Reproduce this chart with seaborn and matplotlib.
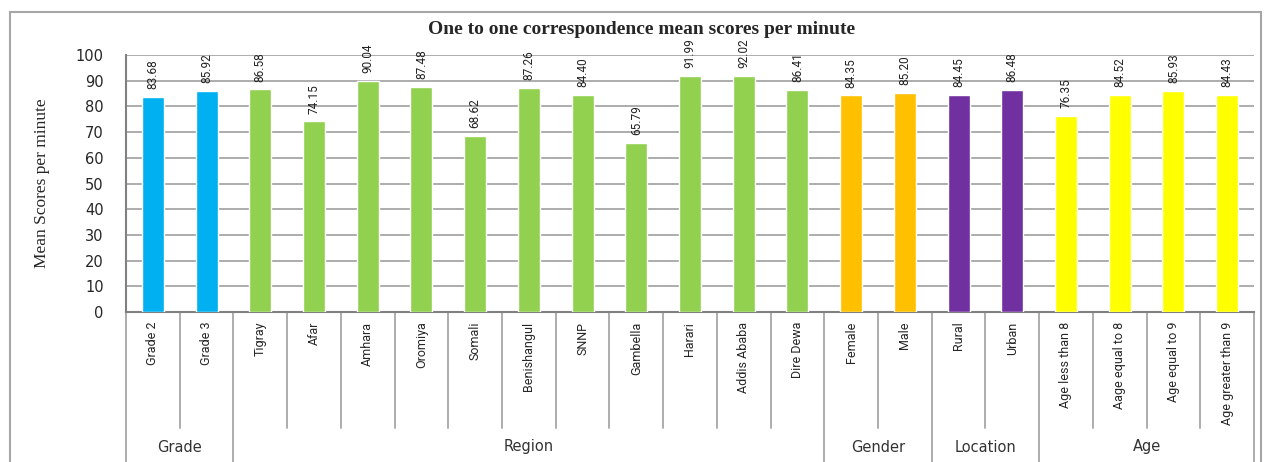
import numpy as np
import pandas as pd
import matplotlib
matplotlib.use("Agg")
import matplotlib.pyplot as plt
from matplotlib.patches import Rectangle
import seaborn as sns

categories = ["Grade 2", "Grade 3", "Tigray", "Afar", "Amhara", "Oromiya", "Somali",
              "Benishangul", "SNNP", "Gambella", "Harari", "Addis Ababa", "Dire Dewa",
              "Female", "Male", "Rural", "Urban", "Age less than 8", "Aage equal to 8",
              "Age equal to 9", "Age greater than 9"]
scores = [83.68, 85.92, 86.58, 74.15, 90.04, 87.48, 68.62, 87.26, 84.40, 65.79,
          91.99, 92.02, 86.41, 84.35, 85.20, 84.45, 86.48, 76.35, 84.52, 85.93, 84.43]
groups = ["Grade"] * 2 + ["Region"] * 11 + ["Gender"] * 2 + ["Location"] * 2 + ["Age"] * 4
group_names = ["Grade", "Region", "Gender", "Location", "Age"]
group_sizes = [2, 11, 2, 2, 4]
group_colors = ["#00B0F0", "#92D050", "#FFC000", "#7030A0", "#FFFF00"]

df = pd.DataFrame({"cat": categories, "score": scores, "group": groups})

sns.set_style("white")
narrow = ["Liberation Sans Narrow", "Roboto", "DejaVu Sans"]

fig = plt.figure(figsize=(12.64, 4.62), dpi=100)
ax = fig.add_axes([126 / 1264, 1 - 312 / 462, (1254 - 126) / 1264, (312 - 55) / 462])

sns.barplot(data=df, x="cat", y="score", hue="group", hue_order=group_names,
            palette=group_colors, dodge=False, width=0.41, legend=False,
            saturation=1, ax=ax, zorder=3)

ax.set_ylim(0, 100)
ax.set_xlim(-0.5, len(categories) - 0.5)
ax.set_yticks(range(0, 101, 10))
ax.yaxis.grid(True, color="#a6a6a6", linewidth=1.3, zorder=0)
ax.set_axisbelow(True)
for s in ["top", "right"]:
    ax.spines[s].set_visible(False)
ax.spines["left"].set_color("#808080")
ax.spines["left"].set_linewidth(1.5)
ax.spines["bottom"].set_color("#808080")
ax.spines["bottom"].set_linewidth(1.5)
ax.tick_params(axis="y", length=7, width=1.3, color="#808080", labelsize=10.5, pad=9)
ax.tick_params(axis="x", length=0, pad=7)
ax.set_xticks(range(len(categories)))
ax.set_xticklabels(categories, rotation=90, va="top", ha="center",
                   fontsize=9, family=narrow)
ax.set_xlabel("")
ax.set_ylabel("Mean Scores per minute", family="Liberation Serif", fontsize=12.5)
ax.yaxis.set_label_coords(-(126 - 50) / 1128, 0.5)

for i, v in enumerate(scores):
    ax.text(i, v + 3.0, f"{v:.2f}", rotation=90, ha="center", va="bottom",
            fontsize=8.5, family=narrow, color="#222222")

# separator lines under the axis
trans = ax.get_xaxis_transform()
cat_depth = -(428 - 312) / 257
grp_depth = -(470 - 312) / 257
bounds = np.cumsum([0] + group_sizes)
for b in range(len(categories) + 1):
    depth = grp_depth if b in bounds else cat_depth
    ax.plot([b - 0.5, b - 0.5], [0, depth], transform=trans, color="#a6a6a6",
            linewidth=1.3, clip_on=False)

start = 0
for name, n in zip(group_names, group_sizes):
    ax.text(start + n / 2 - 0.5, -(447 - 312) / 257, name, transform=trans,
            ha="center", va="center", fontsize=10.5, family="DejaVu Sans", color="#333333")
    start += n

fig.text(642 / 1264, 1 - 29 / 462, "One to one correspondence mean scores per minute",
         ha="center", va="center", fontsize=14, fontweight="bold",
         family="Liberation Serif")

fig.patches.append(Rectangle((10 / 1264, -0.05), 1251 / 1264, 1 - 12 / 462 + 0.05,
                             transform=fig.transFigure, fill=False,
                             edgecolor="#a6a6a6", linewidth=1.5))

fig.savefig("out.png", dpi=100)
